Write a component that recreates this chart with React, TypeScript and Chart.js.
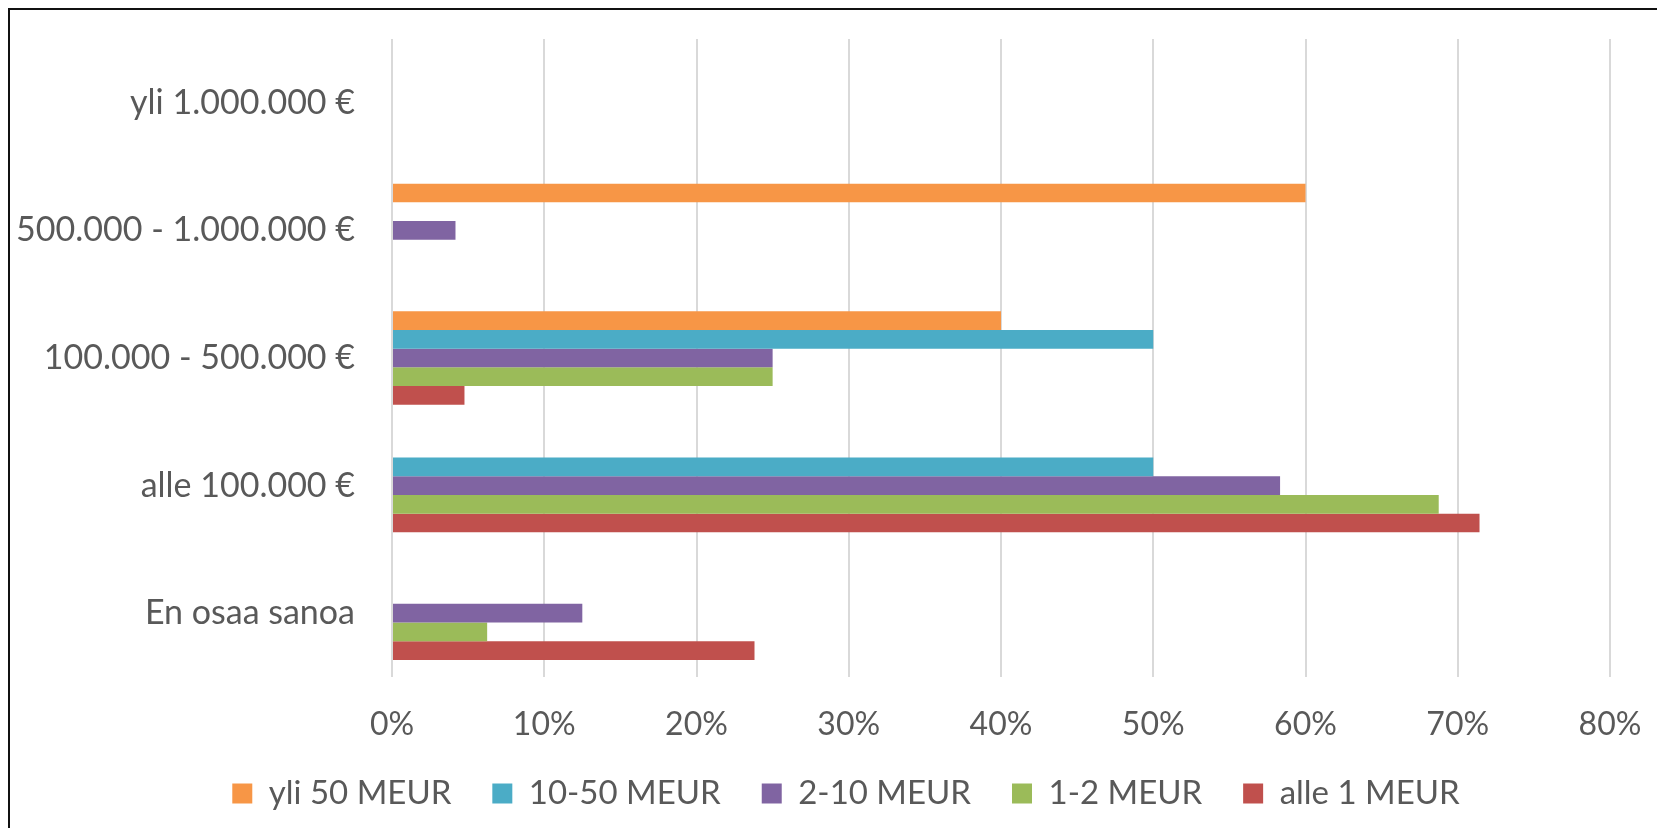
import React, { useEffect, useRef } from "react";
import { Chart, registerables } from "chart.js";

Chart.register(...registerables);

const categories = [
  "yli 1.000.000 €",
  "500.000 - 1.000.000 €",
  "100.000 - 500.000 €",
  "alle 100.000 €",
  "En osaa sanoa",
];

const seriesNames = ["yli 50 MEUR", "10-50 MEUR", "2-10 MEUR", "1-2 MEUR", "alle 1 MEUR"];
const seriesColors = ["#F79646", "#4BACC6", "#8064A2", "#9BBB59", "#C0504D"];

const yli50 = [0, 60, 40, 0, 0];
const meur10to50 = [0, 0, 50, 50, 0];
const meur2to10 = [0, 4.17, 25, 58.33, 12.5];
const meur1to2 = [0, 0, 25, 68.75, 6.25];
const alle1 = [0, 0, 4.76, 71.43, 23.81];

const seriesValues = [yli50, meur10to50, meur2to10, meur1to2, alle1];

const xMin = 0;
const xMax = 80;
const xStep = 10;

const FONT = "Lato, 'Open Sans', sans-serif";
const TEXT = "#595959";

export default function App() {
  const ref = useRef<HTMLCanvasElement | null>(null);

  useEffect(() => {
    if (!ref.current) return;
    const chart = new Chart(ref.current, {
      type: "bar",
      data: {
        labels: categories,
        datasets: seriesNames.map((name, i) => ({
          label: name,
          data: seriesValues[i],
          backgroundColor: seriesColors[i],
          borderWidth: 0,
          categoryPercentage: 0.733,
          barPercentage: 1.0,
        })),
      },
      options: {
        indexAxis: "y",
        responsive: false,
        animation: false,
        layout: { padding: { top: 31, left: 0, right: 0, bottom: 8 } },
        plugins: {
          tooltip: { enabled: false },
          legend: {
            position: "bottom",
            labels: {
              boxWidth: 20,
              boxHeight: 20,
              padding: 41,
              color: TEXT,
              font: { family: FONT, size: 33 },
            },
          },
        },
        scales: {
          x: {
            min: xMin,
            max: xMax,
            ticks: {
              stepSize: xStep,
              color: TEXT,
              padding: 28,
              font: { family: FONT, size: 32 },
              callback: (v: any) => v + "%",
            },
            grid: { color: "#d9d9d9", lineWidth: 2, drawTicks: false },
            border: { display: false },
            afterFit: (s: any) => {
              s.height = 59;
            },
          },
          y: {
            ticks: {
              color: TEXT,
              padding: 37,
              font: { family: FONT, size: 34 },
            },
            grid: { display: false, drawTicks: false },
            border: { display: false },
            afterFit: (s: any) => {
              s.width = 384;
              s.paddingTop = 0;
              s.paddingBottom = 0;
            },
          },
          yRight: {
            type: "category",
            position: "right",
            grid: { display: false, drawTicks: false },
            border: { display: false },
            ticks: { display: false },
            afterFit: (s: any) => {
              s.width = 74;
              s.paddingTop = 0;
              s.paddingBottom = 0;
            },
          },
        },
      },
    });
    return () => chart.destroy();
  }, []);

  return (
    <div style={{ position: "relative", width: 1649, height: 820, overflow: "hidden", background: "#fff" }}>
      <canvas ref={ref} width={1676} height={820} style={{ display: "block" }} />
      <div
        style={{
          position: "absolute",
          left: 0,
          top: 0,
          right: 0,
          bottom: 0,
          borderTop: "2px solid #111",
          borderLeft: "2px solid #111",
          pointerEvents: "none",
        }}
      />
    </div>
  );
}
